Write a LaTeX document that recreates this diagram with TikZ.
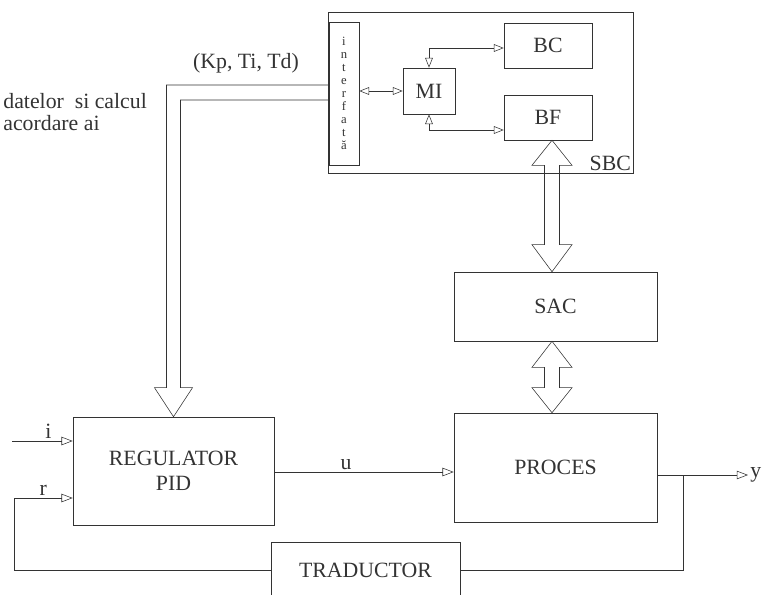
\documentclass[tikz,border=0pt]{standalone}
\usepackage{fontspec}
\setmainfont{Liberation Serif}
\usetikzlibrary{arrows.meta, calc}
\tikzset{
    blk/.style={draw, thin, inner sep=2pt, font=\rmfamily\fontsize{15.5}{18}\selectfont},
    lbl/.style={font=\rmfamily\fontsize{15.5}{18}\selectfont, inner sep=1.5pt},
    sig/.style={-{Triangle[open, length=8pt, width=6pt]}, thin},
    dsig/.style={{Triangle[open, length=7pt, width=5.5pt]}-{Triangle[open, length=7pt, width=5.5pt]}, thin},
    bus/.style={draw, thin, line join=miter},
    pic/.style={x=0.025cm, y=-0.025cm, black!80}
}

\begin{document}
\begin{tikzpicture}[pic]
        \useasboundingbox (0,0) rectangle (770,594);
        \clip (0,0) rectangle (770,594);

        % SBC
        \node[blk, minimum width=7.625cm, minimum height=4.025cm] (sbc) at (480.5,92.5) {};
        \node[lbl, anchor=south east] (sbct) at (sbc.south east) {SBC};
        \node[blk, minimum width=0.75cm, minimum height=3.575cm, align=center,
              font=\rmfamily\fontsize{9}{9.2}\selectfont] (ifc) at (344,93.5) {i\\n\\t\\e\\r\\f\\a\\t\\ă};
        \node[blk, minimum width=1.3cm, minimum height=1.15cm] (mi) at (429,91) {MI};
        \node[blk, minimum width=2.2cm, minimum height=1.125cm] (bc) at (548,45.5) {BC};
        \node[blk, minimum width=2.2cm, minimum height=1.125cm] (bf) at (548,117.5) {BF};

        % bucla
        \node[blk, minimum width=5.075cm, minimum height=1.725cm] (sac) at (555.5,306.5) {SAC};
        \node[blk, minimum width=5.075cm, minimum height=2.725cm] (proc) at (555.5,467.5) {PROCES};
        \node[blk, minimum width=5.025cm, minimum height=2.7cm, align=center] (reg) at (173.5,471) {REGULATOR\\PID};
        \node[blk, minimum width=4.725cm, minimum height=1.4cm] (trad) at (365.5,570) {TRADUCTOR};

        \node[lbl] (kp) at (246,63) {(Kp, Ti, Td)};
        \node[lbl, anchor=west, align=left, font=\rmfamily\fontsize{15.5}{16}\selectfont] (txt) at (1,112) {datelor\ \ si calcul\\acordare ai};

        \coordinate (bx) at (552,0);
        \coordinate (iin) at (12,441);
        \coordinate (rc) at (14,570);
        \coordinate (yb) at (683,475);
        \coordinate (yout) at (748,475);

        % legaturi in SBC
        \draw[dsig] (ifc.east |- mi.west) -- (mi.west);
        \draw[dsig] (mi.north) |- (bc.west |- 0,48);
        \draw[dsig] (mi.south) |- (bf.west |- 0,130);

        % magistrale
        \draw[bus] (ifc.west |- 0,85) -| ($(reg.north)+(-7,-29)$) -- ++(-12,0) -- (reg.north)
            -- ++(19,-29) -- ++(-12,0) |- (ifc.west |- 0,100);
        \draw[bus] (bf.south -| bx) -- ++(20,25) -- ++(-12.5,0) -- ($(sac.north -| bx)+(7.5,-27)$)
            -- ++(12.5,0) -- (sac.north -| bx) -- ++(-20,-27) -- ++(12.5,0)
            -- ($(bf.south -| bx)+(-7.5,25)$) -- ++(-12.5,0) -- cycle;
        \draw[bus] (sac.south -| bx) -- ++(20,26) -- ++(-12.5,0) -- ($(proc.north -| bx)+(7.5,-25)$)
            -- ++(12.5,0) -- (proc.north -| bx) -- ++(-20,-25) -- ++(12.5,0)
            -- ($(sac.south -| bx)+(-7.5,26)$) -- ++(-12.5,0) -- cycle;

        % semnale
        \draw[sig] (iin) -- (reg.west |- iin) node[lbl, pos=0.6, above] {i};
        \draw[sig] (trad.west) -- (rc) |- (reg.west |- 0,498) node[lbl, pos=0.75, above] {r};
        \draw[sig] (reg.east |- 0,472) -- (proc.west |- 0,472) node[lbl, pos=0.4, above] {u};
        \draw[sig] (proc.east |- yout) -- (yout) node[lbl, right] {y};
        \draw (yb) |- (trad.east);
    \end{tikzpicture}
\end{document}
